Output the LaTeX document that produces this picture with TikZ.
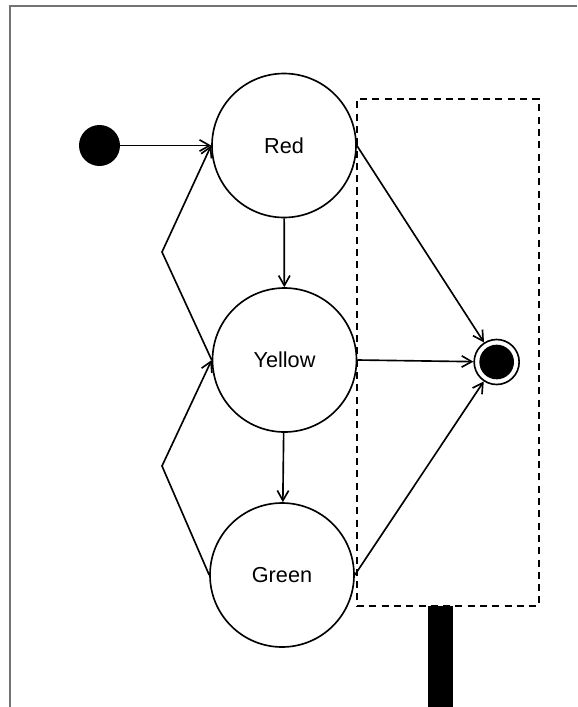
\documentclass[tikz,border=0pt]{standalone}
\usepackage{fontspec}
\setmainfont{Liberation Sans}
\usetikzlibrary{arrows.meta}

\begin{document}
\begin{tikzpicture}[
    state/.style={draw, circle, minimum size=4.32cm, inner sep=0pt, line width=1.4pt,
                  font=\fontsize{18.5}{22}\selectfont},
    start/.style={circle, fill=black, minimum size=1.23cm, inner sep=0pt},
    stop/.style={circle, draw, fill=white, minimum size=1.35cm, inner sep=0pt, line width=1.4pt,
                 path picture={\fill[black] (path picture bounding box.center) circle (0.52cm);}},
    zone/.style={draw, dash pattern=on 6pt off 4.5pt, line width=2pt, inner sep=0pt},
    arrow/.style={-{Straight Barb[length=3mm, width=3.4mm]}, line width=1.4pt}
]
\useasboundingbox (0, 0) rectangle (17.31, -21.21);

% outer frame
\draw[black!55, line width=1.6pt] (0.3, -21.21) |- (17.31, -0.18);

% dashed region and its stem
\node[zone, minimum width=5.46cm, minimum height=15.21cm] (region) at (13.44, -10.575) {};
\node[fill=black, inner sep=0pt, minimum width=0.75cm, minimum height=3.2cm, anchor=north] (stem) at (13.215, -18.18) {};

% states
\node[start] (init) at (2.985, -4.365) {};
\node[state] (red) at (8.52, -4.365) {Red};
\node[state] (yellow) at (8.535, -10.8) {Yellow};
\node[state] (green) at (8.46, -17.25) {Green};
\node[stop] (final) at (14.9, -10.86) {};

% bend points of the back edges
\coordinate (back1) at (4.86, -7.56);
\coordinate (back2) at (4.86, -13.98);

% transitions
\draw[arrow] (init) -- (red);
\draw[arrow] (red) -- (yellow);
\draw[arrow] (yellow) -- (green);
\draw[arrow] (yellow.west) -- (back1) -- (red.west);
\draw[arrow] (green.west) -- (back2) -- (yellow.west);
\draw[arrow] (red.east) -- (final);
\draw[arrow] (yellow.east) -- (final);
\draw[arrow] (green.east) -- (final);
\end{tikzpicture}
\end{document}
